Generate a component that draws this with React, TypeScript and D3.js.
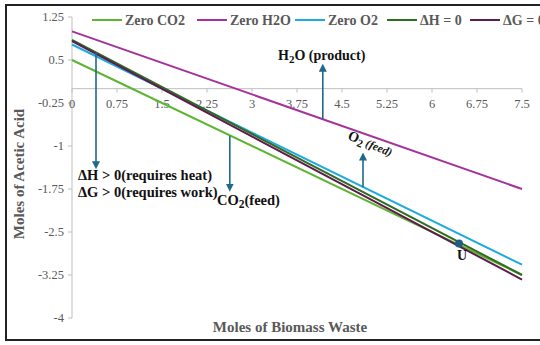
import React from "react";
import { scaleLinear, line } from "d3";

// chart values
const biomass = [0, 7.5];
const zeroCO2 = [0.5, -3.25];
const zeroH2O = [1.0, -1.75];
const zeroO2 = [0.77, -3.07];
const dH0 = [0.85, -3.25];
const dG0 = [0.83, -3.33];

const seriesNames = ["Zero CO2", "Zero H2O", "Zero O2", "\u0394H = 0", "\u0394G = 0"];
const seriesColors = ["#5cb531", "#a5319b", "#1eaae1", "#2f6b20", "#5e1b4c"];
const seriesValues = [zeroCO2, zeroH2O, zeroO2, dH0, dG0];

const xTicks = [0, 0.75, 1.5, 2.25, 3, 3.75, 4.5, 5.25, 6, 6.75, 7.5];
const yTicks = [1.25, 0.5, -0.25, -1, -1.75, -2.5, -3.25, -4];

// arrows: [x, yFrom, yTo]
const arrows = [
  [4.18, -0.53, 0.38],
  [0.4, 0.63, -1.35],
  [2.63, -0.82, -1.74],
  [4.85, -1.72, -1.17],
];
const pointU = [6.45, -2.7];

const W = 540;
const H = 345;
const font = "'Liberation Serif', 'Times New Roman', serif";
const grey = "#595959";
const arrowColor = "#1d6a8a";

export default function App() {
  const x = scaleLinear().domain([0, 7.5]).range([72, 522]);
  const y = scaleLinear().domain([-4, 1.25]).range([318, 17]);
  const path = line<[number, number]>()
    .x((d) => x(d[0]))
    .y((d) => y(d[1]));

  // legend layout
  const legendX = [92, 197, 295, 387, 470];

  return (
    <svg width={W} height={H} style={{ position: "absolute", left: 0, top: 0 }}>
      <defs>
        <marker id="arr" viewBox="0 0 10 10" refX="6" refY="5" markerWidth="5" markerHeight="5" orient="auto-start-reverse">
          <path d="M0,0 L10,5 L0,10 z" fill={arrowColor} />
        </marker>
      </defs>
      <rect x={0} y={0} width={W} height={H} fill="#fff" />
      <rect x={6} y={5} width={540} height={335} fill="none" stroke="#222" strokeWidth={2} />

      {/* y axis */}
      <line x1={x(0)} x2={x(0)} y1={y(1.25)} y2={y(-4)} stroke="#bfbfbf" />
      {yTicks.map((t) => (
        <g key={t}>
          <line x1={x(0) - 4} x2={x(0)} y1={y(t)} y2={y(t)} stroke="#bfbfbf" />
          <text x={x(0) - 8} y={y(t) + 4} textAnchor="end" fontFamily={font} fontSize={12.5} fill={grey}>
            {t}
          </text>
        </g>
      ))}
      {/* x axis at y = 0 */}
      <line x1={x(0)} x2={x(7.5)} y1={y(0)} y2={y(0)} stroke="#bfbfbf" />
      {xTicks.map((t) => (
        <g key={t}>
          <line x1={x(t)} x2={x(t)} y1={y(0)} y2={y(0) + 4} stroke="#bfbfbf" />
          <text x={x(t)} y={y(0) + 19} textAnchor="middle" fontFamily={font} fontSize={12.5} fill={grey}>
            {t}
          </text>
        </g>
      ))}

      {/* series */}
      {seriesValues.map((vals, i) => (
        <path
          key={i}
          d={path(biomass.map((b, j) => [b, vals[j]] as [number, number])) || ""}
          fill="none"
          stroke={seriesColors[i]}
          strokeWidth={2}
        />
      ))}

      {/* legend */}
      {seriesNames.map((n, i) => (
        <g key={n}>
          <line x1={legendX[i]} x2={legendX[i] + 30} y1={20} y2={20} stroke={seriesColors[i]} strokeWidth={2} />
          <text x={legendX[i] + 33} y={24.5} fontFamily={font} fontSize={14} fontWeight="bold" fill={grey}>
            {n}
          </text>
        </g>
      ))}

      {/* arrows */}
      {arrows.map((a, i) => (
        <line
          key={i}
          x1={x(a[0])}
          x2={x(a[0])}
          y1={y(a[1])}
          y2={y(a[2])}
          stroke={arrowColor}
          strokeWidth={1.6}
          markerEnd="url(#arr)"
        />
      ))}

      {/* annotations */}
      <text x={278} y={60} fontFamily={font} fontSize={14} fontWeight="bold" fill="#111">
        H<tspan fontSize={11} dy={3}>2</tspan>
        <tspan dy={-3}>O (product)</tspan>
      </text>
      <text x={78} y={180} fontFamily={font} fontSize={14.5} fontWeight="bold" fill="#111">
        {"\u0394H > 0(requires heat)"}
      </text>
      <text x={78} y={197} fontFamily={font} fontSize={14.5} fontWeight="bold" fill="#111">
        {"\u0394G > 0(requires work)"}
      </text>
      <text x={217} y={205} fontFamily={font} fontSize={14.5} fontWeight="bold" fill="#111">
        CO<tspan fontSize={11.5} dy={3}>2</tspan>
        <tspan dy={-3}>(feed)</tspan>
      </text>
      <text
        transform="translate(347,139) rotate(22)"
        fontFamily={font}
        fontSize={14}
        fontWeight="bold"
        fill="#111"
      >
        O<tspan fontSize={11} dy={3}>2</tspan>
        <tspan dy={-3} fontSize={11.5} fontStyle="italic"> (feed)</tspan>
      </text>

      {/* point U */}
      <circle cx={x(pointU[0])} cy={y(pointU[1])} r={4} fill="#1d5f80" />
      <text x={x(pointU[0]) + 3} y={y(pointU[1]) + 17} textAnchor="middle" fontFamily={font} fontSize={14} fontWeight="bold" fill="#111">
        U
      </text>

      {/* axis titles */}
      <text x={290} y={332} textAnchor="middle" fontFamily={font} fontSize={15} fontWeight="bold" fill={grey}>
        Moles of Biomass Waste
      </text>
      <text
        transform="translate(24,174) rotate(-90)"
        textAnchor="middle"
        fontFamily={font}
        fontSize={15}
        fontWeight="bold"
        fill={grey}
      >
        Moles of Acetic Acid
      </text>
    </svg>
  );
}
